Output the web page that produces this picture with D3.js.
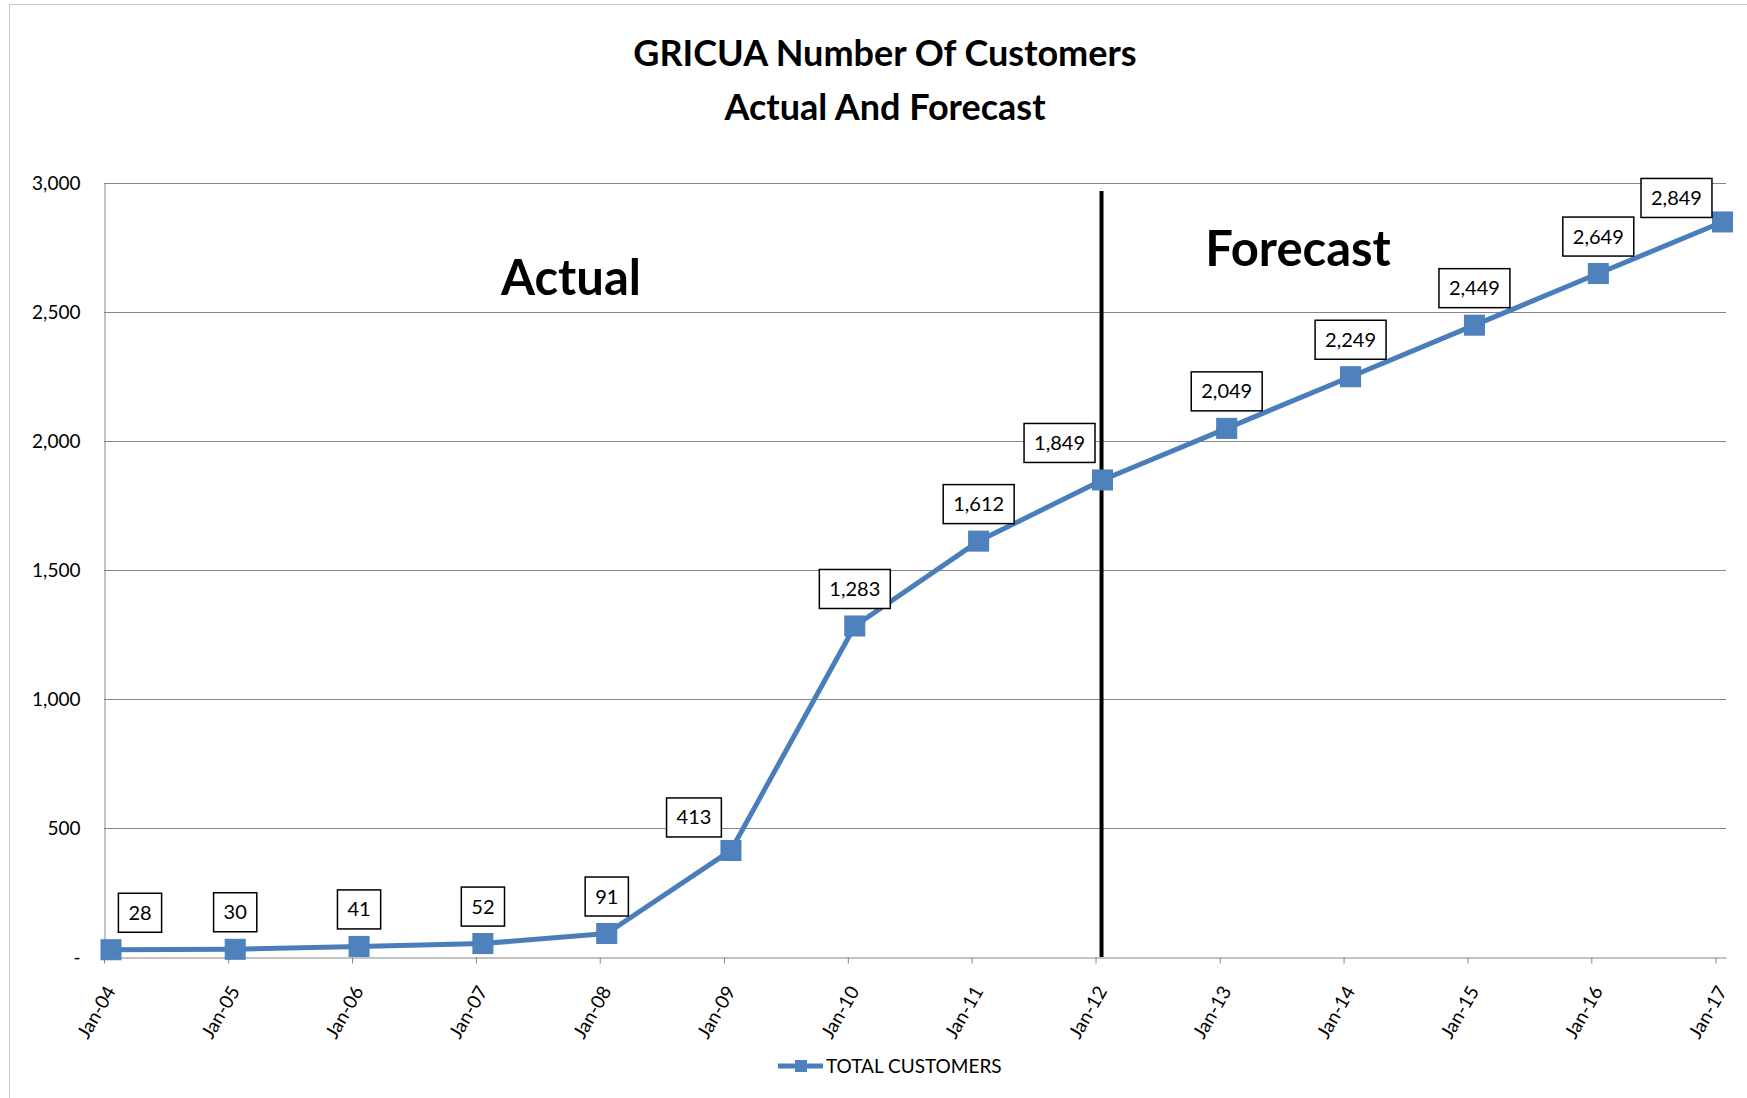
<!DOCTYPE html>
<html>
<head>
<meta charset="utf-8">
<script src="https://cdn.jsdelivr.net/npm/d3@7"></script>
<style>
    body { margin: 0; background: linear-gradient(160deg, #8e9a80 0%, #9c9574 40%, #a88a64 100%); }
    .canva { position: absolute; left: 9px; top: 4px; width: 1738px; height: 1094px; background: #fff; border-left: 1px solid #c8c8c8; border-top: 1px solid #c8c8c8; box-sizing: border-box; }
    text { font-family: Lato, "Open Sans", sans-serif; fill: #000; }
</style>
</head>
<body>
<div class="canva"></div>
<script>
// data
const periods = ["2004-01", "2005-01", "2006-01", "2007-01", "2008-01", "2009-01", "2010-01",
    "2011-01", "2012-01", "2013-01", "2014-01", "2015-01", "2016-01", "2017-01"];
const customers = [28, 30, 41, 52, 91, 413, 1283, 1612, 1849, 2049, 2249, 2449, 2649, 2849];
const yTicks = [0, 500, 1000, 1500, 2000, 2500, 3000];
const forecastFrom = "2012-01";
const titleLines = ["GRICUA Number Of Customers", "Actual And Forecast"];
const seriesName = "TOTAL CUSTOMERS";

const parse = d3.timeParse("%Y-%m");
const data = periods.map((p, i) => ({ date: parse(p), value: customers[i], i: i }));

const blue = "#4a7ebb";
const grid = "#868686";

// svg sits in page coords, panel offset is 9,4
const svg = d3.select("body").append("svg")
    .attr("width", 1747)
    .attr("height", 1098)
    .style("position", "absolute")
    .style("left", 0)
    .style("top", 0);

const margin = { top: 183, right: 21, bottom: 141, left: 104 };
const x = d3.scaleTime()
    .domain([parse("2004-01"), parse("2017-02")])
    .range([margin.left, 1747 - margin.right]);
const y = d3.scaleLinear()
    .domain([0, 3000])
    .range([1098 - margin.bottom, margin.top]);

const pointShift = 7; // markers sit a little right of the year tick
const px = d => x(d.date) + pointShift;

// gridlines
svg.append("g").selectAll("line")
    .data(yTicks.filter(t => t > 0))
    .enter().append("line")
    .attr("x1", x.range()[0])
    .attr("x2", x.range()[1])
    .attr("y1", d => y(d) + 0.5)
    .attr("y2", d => y(d) + 0.5)
    .attr("stroke", grid)
    .attr("stroke-width", 1);

// y axis
const yAxis = d3.axisLeft(y)
    .tickValues(yTicks)
    .tickSize(0)
    .tickPadding(24)
    .tickFormat(d => d === 0 ? "-" : d3.format(",")(d));
const yAxisGroup = svg.append("g")
    .attr("transform", `translate(${margin.left + 0.5}, 0)`)
    .call(yAxis);
yAxisGroup.select(".domain").attr("stroke", grid);
yAxisGroup.selectAll("text")
    .style("font-size", "19px")
    .style("font-family", "Lato");

// x axis
const xAxis = d3.axisBottom(x)
    .ticks(d3.timeYear.every(1))
    .tickSize(6)
    .tickSizeOuter(0)
    .tickFormat(d3.timeFormat("%b-%y"));
const xAxisGroup = svg.append("g")
    .attr("transform", `translate(0, ${y(0) + 0.5})`)
    .call(xAxis);
xAxisGroup.select(".domain").attr("stroke", grid);
xAxisGroup.selectAll(".tick line").attr("stroke", grid);
xAxisGroup.selectAll("text")
    .style("font-size", "19px")
    .style("font-family", "Lato")
    .attr("text-anchor", "end")
    .attr("x", 0)
    .attr("y", 0)
    .attr("dy", "0.35em")
    .attr("transform", "translate(6, 30) rotate(-60)");

// forecast divider
const split = data.find(d => +d.date === +parse(forecastFrom));
svg.append("line")
    .attr("x1", px(split) - 1)
    .attr("x2", px(split) - 1)
    .attr("y1", margin.top + 8)
    .attr("y2", y(0))
    .attr("stroke", "#000")
    .attr("stroke-width", 4);

// series line + markers
const line = d3.line()
    .x(px)
    .y(d => y(d.value));

svg.append("path")
    .datum(data)
    .attr("fill", "none")
    .attr("stroke", blue)
    .attr("stroke-width", 5)
    .attr("stroke-linejoin", "round")
    .attr("d", line);

svg.selectAll(".marker")
    .data(data)
    .enter().append("rect")
    .attr("class", "marker")
    .attr("x", d => px(d) - 10)
    .attr("y", d => y(d.value) - 10)
    .attr("width", 20)
    .attr("height", 20)
    .attr("fill", "#4f81bd")
    .attr("stroke", blue)
    .attr("stroke-width", 1);

// value labels, a few were dragged aside in the original
const nudge = { 0: [29, 0], 5: [-37, 4], 8: [-43, 0], 13: [-46, 13] };
const labels = svg.append("g").selectAll("g")
    .data(data)
    .enter().append("g")
    .attr("transform", d => {
        const n = nudge[d.i] || [0, 0];
        return `translate(${px(d) + n[0]}, ${y(d.value) - 37 + n[1]})`;
    });

labels.append("text")
    .attr("text-anchor", "middle")
    .attr("dy", "0.35em")
    .style("font-size", "20px")
    .text(d => d3.format(",")(d.value));

labels.each(function() {
    const g = d3.select(this);
    const w = g.select("text").node().getComputedTextLength() + 20;
    g.insert("rect", "text")
        .attr("x", -w / 2)
        .attr("y", -19.5)
        .attr("width", w)
        .attr("height", 39)
        .attr("fill", "#fff")
        .attr("stroke", "#000")
        .attr("stroke-width", 1.5);
});

// titles
svg.selectAll(".title")
    .data(titleLines)
    .enter().append("text")
    .attr("class", "title")
    .attr("x", 885)
    .attr("y", (d, i) => 66 + i * 54)
    .attr("text-anchor", "middle")
    .style("font-size", "36px")
    .style("font-weight", "bold")
    .text(d => d);

svg.append("text")
    .attr("x", 571)
    .attr("y", 295)
    .attr("text-anchor", "middle")
    .style("font-size", "49px")
    .style("font-weight", "bold")
    .text("Actual");

svg.append("text")
    .attr("x", 1298)
    .attr("y", 266)
    .attr("text-anchor", "middle")
    .style("font-size", "49px")
    .style("font-weight", "bold")
    .text("Forecast");

// legend
const legend = svg.append("g")
    .attr("transform", "translate(778, 1066)");
legend.append("line")
    .attr("x1", 0)
    .attr("x2", 45)
    .attr("stroke", blue)
    .attr("stroke-width", 5);
legend.append("rect")
    .attr("x", 17)
    .attr("y", -6)
    .attr("width", 12)
    .attr("height", 12)
    .attr("fill", "#4f81bd");
legend.append("text")
    .attr("x", 48)
    .attr("dy", "0.35em")
    .style("font-size", "19px")
    .text(seriesName);
</script>
</body>
</html>
